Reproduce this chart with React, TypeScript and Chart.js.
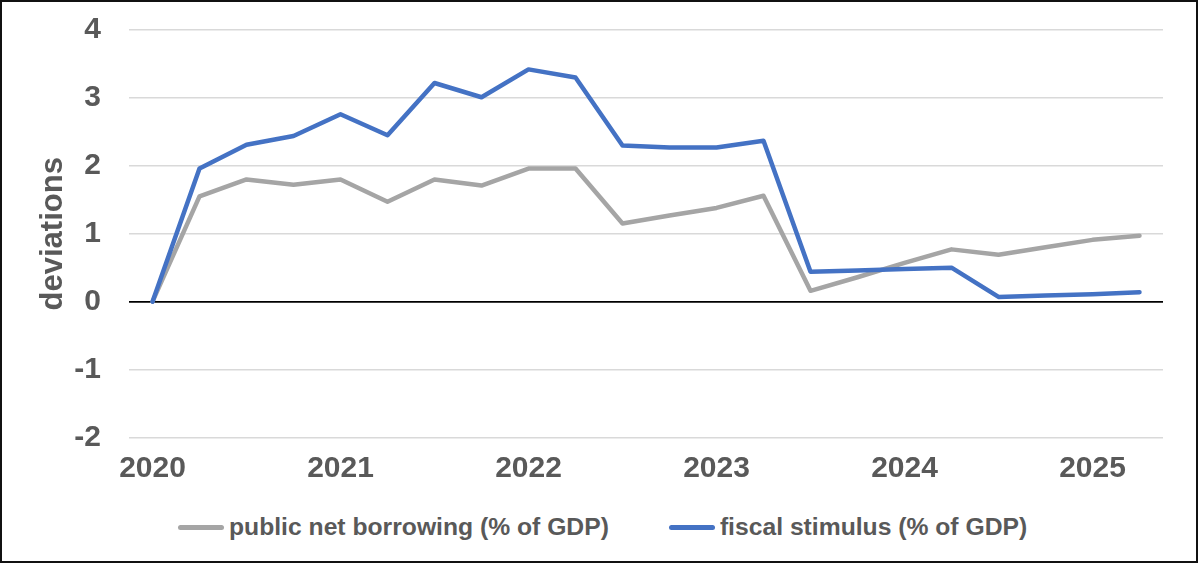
import React, { useEffect, useRef } from 'react';
import { Chart, registerables } from 'chart.js';

Chart.register(...registerables);

const quarters = [
  '2020 Q1', '2020 Q2', '2020 Q3', '2020 Q4',
  '2021 Q1', '2021 Q2', '2021 Q3', '2021 Q4',
  '2022 Q1', '2022 Q2', '2022 Q3', '2022 Q4',
  '2023 Q1', '2023 Q2', '2023 Q3', '2023 Q4',
  '2024 Q1', '2024 Q2', '2024 Q3', '2024 Q4',
  '2025 Q1', '2025 Q2',
];

const yearTickLabels = ['2020', '2021', '2022', '2023', '2024', '2025'];

const publicNetBorrowing = [
  0, 1.55, 1.8, 1.72,
  1.8, 1.47, 1.8, 1.71,
  1.96, 1.96, 1.15, 1.27,
  1.38, 1.56, 0.16, 0.36,
  0.57, 0.77, 0.69, 0.8,
  0.91, 0.97,
];

const fiscalStimulus = [
  0, 1.96, 2.31, 2.44,
  2.76, 2.45, 3.22, 3.01,
  3.42, 3.3, 2.3, 2.27,
  2.27, 2.37, 0.44, 0.46,
  0.48, 0.5, 0.07, 0.09,
  0.11, 0.14,
];

const seriesNames = ['public net borrowing (% of GDP)', 'fiscal stimulus (% of GDP)'];
const seriesColors = ['#a5a5a5', '#4472c4'];

const FONT = '"Liberation Sans", Arial, sans-serif';
const TEXT = '#595959';
const CW = 1194;
const CH = 490;

export default function App() {
  const ref = useRef<HTMLCanvasElement | null>(null);

  useEffect(() => {
    if (!ref.current) return;
    const chart = new Chart(ref.current, {
      type: 'line',
      data: {
        labels: quarters,
        datasets: [
          {
            label: seriesNames[0],
            data: publicNetBorrowing,
            borderColor: seriesColors[0],
            backgroundColor: seriesColors[0],
            borderWidth: 4.5,
            pointRadius: 0,
            tension: 0,
            borderCapStyle: 'round',
            borderJoinStyle: 'round',
            order: 1,
          },
          {
            label: seriesNames[1],
            data: fiscalStimulus,
            borderColor: seriesColors[1],
            backgroundColor: seriesColors[1],
            borderWidth: 4.5,
            pointRadius: 0,
            tension: 0,
            borderCapStyle: 'round',
            borderJoinStyle: 'round',
            order: 0,
          },
        ],
      },
      options: {
        responsive: false,
        animation: false,
        devicePixelRatio: 1,
        layout: { padding: { top: 28, right: 33, left: 0, bottom: 0 } },
        plugins: {
          legend: { display: false },
          tooltip: { enabled: false },
        },
        scales: {
          x: {
            type: 'category',
            offset: true,
            grid: { display: false, drawTicks: false },
            border: { display: false },
            ticks: {
              autoSkip: false,
              maxRotation: 0,
              minRotation: 0,
              padding: 13.5,
              color: TEXT,
              font: { family: FONT, size: 30, weight: 'bold' },
              callback: (_v: any, idx: number) => {
                const q = quarters[idx];
                if (!q.endsWith('Q1')) return '';
                const y = q.slice(0, 4);
                return yearTickLabels.includes(y) ? y : '';
              },
            },
            afterFit: (scale: any) => {
              scale.height = CH - 435.5;
            },
          },
          y: {
            min: -2,
            max: 4,
            border: { display: false },
            grid: {
              drawTicks: false,
              color: (ctx: any) => (ctx.tick && ctx.tick.value === 0 ? '#000000' : '#d9d9d9'),
              lineWidth: (ctx: any) => (ctx.tick && ctx.tick.value === 0 ? 1.8 : 1.5),
            },
            ticks: {
              stepSize: 1,
              padding: 28,
              color: TEXT,
              font: { family: FONT, size: 30, weight: 'bold' },
            },
            title: {
              display: true,
              text: 'deviations',
              color: TEXT,
              font: { family: FONT, size: 31, weight: 'bold' },
              padding: { top: 33, bottom: 0 },
            },
            afterFit: (scale: any) => {
              scale.width = 127;
              scale.paddingTop = 0;
              scale.paddingBottom = 0;
            },
          },
        },
      },
    });
    return () => chart.destroy();
  }, []);

  return (
    <div
      style={{
        position: 'absolute',
        left: 0,
        top: 0,
        width: 1198,
        height: 563,
        boxSizing: 'border-box',
        border: '2px solid #111',
        background: '#fff',
        overflow: 'hidden',
      }}
    >
      <canvas
        ref={ref}
        width={CW}
        height={CH}
        style={{ position: 'absolute', left: 0, top: 0, width: CW, height: CH }}
      />
      <div
        style={{
          position: 'absolute',
          left: 176,
          top: 510,
          height: 30,
          display: 'flex',
          alignItems: 'center',
          fontFamily: FONT,
          fontWeight: 'bold',
          fontSize: '24.7px',
          color: TEXT,
          whiteSpace: 'nowrap',
        }}
      >
        {seriesNames.map((name, i) => (
          <div
            key={name}
            style={{ display: 'flex', alignItems: 'center', marginLeft: i === 0 ? 0 : 60 }}
          >
            <span
              style={{
                display: 'inline-block',
                width: 46,
                height: 5,
                borderRadius: 2.5,
                background: seriesColors[i],
                marginRight: 5,
              }}
            />
            <span>{name}</span>
          </div>
        ))}
      </div>
    </div>
  );
}
